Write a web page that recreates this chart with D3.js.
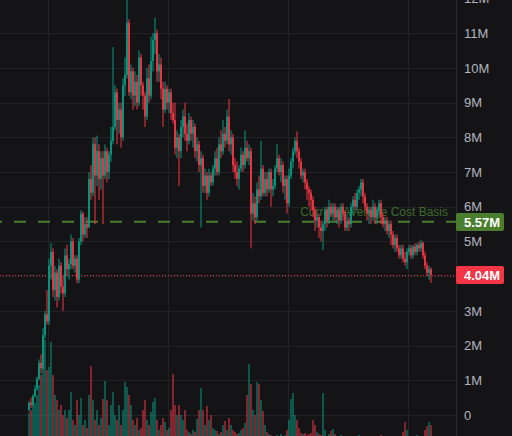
<!DOCTYPE html>
<html>
<head>
<meta charset="utf-8">
<script src="https://cdn.jsdelivr.net/npm/d3@7/dist/d3.min.js"></script>
<style>
    html, body { margin: 0; padding: 0; background: #141417; overflow: hidden; }
    svg { display: block; }
    text { font-family: "Liberation Sans", Arial, sans-serif; }
</style>
</head>
<body>
<div id="chartArea"></div>
<script>
// Candle values in millions, oldest first
let openPrice = [
    .15, .35, .3, .55, .75, 1.05, 1.5, 1.35, 2.3, 2.9,
    2.7, 4.3, 4.7, 3.6, 4.1, 3.4, 4.3, 3.7, 3.5, 4.6,
    4.2, 4.35, 5.0, 4.3, 4.5, 3.9, 5.0, 5.8, 5.2, 5.5,
    5.4, 6.8, 6.4, 7.8, 6.9, 7.6, 6.8, 7.4, 6.9, 7.6,
    7.0, 7.5, 7.9, 8.3, 9.3, 8.5, 8.8, 8.0, 9.5, 9.8,
    11.3, 9.3, 9.9, 9.2, 9.6, 9.0, 10.3, 9.5, 9.2, 8.6,
    9.7, 9.2, 10.2, 10.8, 11.0, 9.9, 10.1, 9.4, 8.8, 9.4,
    9.0, 9.3, 8.7, 8.5, 7.7, 8.0, 7.6, 8.3, 8.6, 8.1,
    7.9, 8.5, 8.1, 8.3, 7.6, 7.8, 7.2, 7.4, 6.6, 6.9,
    6.4, 6.9, 6.7, 7.1, 7.4, 7.0, 7.8, 7.6, 8.1, 7.9,
    8.6, 7.8, 8.0, 7.2, 7.0, 6.8, 7.1, 7.5, 7.2, 7.7,
    7.4, 7.6, 5.8, 6.1, 5.7, 6.5, 6.3, 7.1, 6.4, 6.8,
    6.5, 7.0, 6.5, 6.6, 7.1, 7.4, 7.0, 7.2, 6.6, 6.8,
    6.1, 6.9, 7.3, 7.6, 7.9, 7.6, 7.3, 6.9, 7.0, 6.7,
    6.5, 6.4, 6.2, 5.9, 5.6, 5.7, 5.4, 5.3, 5.5, 5.9,
    5.6, 6.0, 5.8, 6.0, 5.7, 5.9, 5.6, 6.0, 5.8, 5.4,
    5.6, 5.5, 6.0, 6.2, 6.0, 6.4, 6.5, 6.7, 6.3, 6.0,
    5.8, 5.9, 5.7, 6.0, 5.7, 5.9, 6.1, 5.7, 5.5, 5.6,
    5.3, 5.5, 5.2, 4.9, 5.1, 4.8, 4.6, 4.8, 4.5, 4.4,
    4.7, 4.8, 4.6, 4.85, 4.7, 4.9, 4.8, 4.95, 4.6, 4.3,
    4.1, 4.2
];

let closePrice = [
    .35, .3, .55, .75, 1.05, 1.5, 1.35, 2.3, 2.9, 2.7,
    4.3, 4.7, 3.6, 4.1, 3.4, 4.3, 3.7, 3.5, 4.6, 4.2,
    4.35, 5.0, 4.3, 4.5, 3.9, 5.0, 5.8, 5.2, 5.5, 5.4,
    6.8, 6.4, 7.8, 6.9, 7.6, 6.8, 7.4, 6.9, 7.6, 7.0,
    7.5, 7.9, 8.3, 9.3, 8.5, 8.8, 8.0, 9.5, 9.8, 11.3,
    9.3, 9.9, 9.2, 9.6, 9.0, 10.3, 9.5, 9.2, 8.6, 9.7,
    9.2, 10.2, 10.8, 11.0, 9.9, 10.1, 9.4, 8.8, 9.4, 9.0,
    9.3, 8.7, 8.5, 7.7, 8.0, 7.6, 8.3, 8.6, 8.1, 7.9,
    8.5, 8.1, 8.3, 7.6, 7.8, 7.2, 7.4, 6.6, 6.9, 6.4,
    6.9, 6.7, 7.1, 7.4, 7.0, 7.8, 7.6, 8.1, 7.9, 8.6,
    7.8, 8.0, 7.2, 7.0, 6.8, 7.1, 7.5, 7.2, 7.7, 7.4,
    7.6, 5.8, 6.1, 5.7, 6.5, 6.3, 7.1, 6.4, 6.8, 6.5,
    7.0, 6.5, 6.6, 7.1, 7.4, 7.0, 7.2, 6.6, 6.8, 6.1,
    6.9, 7.3, 7.6, 7.9, 7.6, 7.3, 6.9, 7.0, 6.7, 6.5,
    6.4, 6.2, 5.9, 5.6, 5.7, 5.4, 5.3, 5.5, 5.9, 5.6,
    6.0, 5.8, 6.0, 5.7, 5.9, 5.6, 6.0, 5.8, 5.4, 5.6,
    5.5, 6.0, 6.2, 6.0, 6.4, 6.5, 6.7, 6.3, 6.0, 5.8,
    5.9, 5.7, 6.0, 5.7, 5.9, 6.1, 5.7, 5.5, 5.6, 5.3,
    5.5, 5.2, 4.9, 5.1, 4.8, 4.6, 4.8, 4.5, 4.4, 4.7,
    4.8, 4.6, 4.85, 4.7, 4.9, 4.8, 4.95, 4.6, 4.3, 4.1,
    4.2, 4.04
];

let highPrice = [
    .4, .5, .6, .85, 1.1, 1.6, 1.75, 2.5, 3.0, 3.6,
    4.5, 4.95, 4.8, 4.3, 4.2, 4.5, 4.4, 4.0, 4.8, 4.9,
    4.5, 5.2, 5.1, 4.6, 4.6, 5.1, 5.9, 5.85, 5.7, 5.7,
    7.0, 7.2, 8.0, 8.0, 8.05, 7.8, 7.6, 7.6, 7.8, 7.7,
    7.6, 8.3, 10.6, 9.5, 9.4, 9.0, 9.0, 9.7, 10.3, 11.95,
    11.4, 10.1, 10.0, 9.9, 9.8, 10.5, 10.4, 9.6, 9.3, 10.0,
    10.1, 10.9, 11.0, 11.45, 11.1, 10.4, 10.3, 9.6, 9.6, 9.5,
    9.4, 9.4, 9.0, 9.0, 8.2, 8.1, 8.5, 8.8, 9.0, 8.4,
    8.7, 8.6, 8.5, 8.4, 8.0, 7.9, 7.6, 7.5, 7.1, 7.0,
    7.1, 7.0, 7.2, 7.6, 7.7, 8.0, 8.2, 8.5, 8.3, 8.8,
    9.1, 8.2, 8.1, 7.4, 7.3, 7.2, 7.7, 7.6, 8.2, 7.9,
    7.8, 7.7, 6.4, 6.3, 6.7, 6.9, 7.9, 7.2, 7.0, 7.0,
    7.1, 7.1, 6.8, 7.2, 7.8, 7.5, 7.4, 7.3, 6.9, 6.9,
    7.1, 7.4, 7.7, 8.0, 8.17, 7.7, 7.4, 7.1, 7.1, 6.8,
    6.6, 6.5, 6.3, 6.0, 5.8, 5.8, 5.6, 5.6, 6.0, 6.0,
    6.2, 6.1, 6.1, 6.1, 6.0, 6.0, 6.1, 6.1, 5.9, 5.8,
    5.7, 6.1, 6.3, 6.4, 6.5, 6.6, 6.8, 6.8, 6.4, 6.1,
    6.0, 6.0, 6.2, 6.1, 6.0, 6.2, 6.2, 5.8, 5.7, 5.7,
    5.6, 5.6, 5.3, 5.2, 5.2, 4.9, 4.9, 4.9, 4.7, 4.8,
    4.9, 4.9, 4.9, 4.95, 4.95, 5.0, 5.05, 5.0, 4.7, 4.4,
    4.3, 4.25
];

let lowPrice = [
    .1, .2, .25, .5, .7, 1.0, 1.2, 1.3, 2.2, 2.6,
    2.6, 3.9, 3.4, 3.3, 3.1, 3.3, 3.5, 3.0, 3.4, 4.0,
    3.9, 4.2, 4.2, 4.1, 3.8, 3.8, 4.9, 5.0, 5.1, 5.1,
    5.4, 6.2, 6.3, 5.5, 6.6, 6.2, 6.5, 5.5, 6.8, 6.7,
    6.8, 7.3, 7.8, 8.2, 7.8, 8.1, 7.7, 7.9, 9.2, 9.7,
    9.2, 9.1, 8.8, 8.9, 8.8, 8.9, 9.2, 8.8, 8.3, 8.5,
    9.0, 9.1, 9.9, 10.4, 9.6, 9.6, 9.1, 8.3, 8.7, 8.8,
    8.7, 8.5, 8.4, 7.5, 7.4, 6.6, 7.4, 8.0, 7.9, 7.6,
    7.8, 7.9, 7.7, 7.4, 7.3, 7.0, 5.4, 6.4, 6.4, 6.2,
    6.3, 6.6, 6.6, 6.9, 6.9, 6.9, 7.4, 7.5, 7.7, 7.8,
    7.6, 7.5, 7.0, 6.8, 6.6, 6.5, 7.0, 7.0, 7.1, 7.3,
    7.2, 4.8, 5.6, 5.5, 5.6, 6.1, 6.2, 6.3, 6.3, 6.3,
    6.4, 6.0, 6.3, 6.5, 7.0, 6.9, 6.7, 6.4, 6.2, 5.8,
    6.0, 6.8, 7.1, 7.5, 7.4, 7.1, 6.8, 6.7, 6.5, 6.2,
    6.0, 5.9, 5.7, 5.3, 5.4, 5.1, 5.0, 4.75, 5.3, 5.4,
    5.5, 5.7, 5.6, 5.6, 5.5, 5.4, 5.5, 5.6, 5.3, 5.3,
    5.3, 5.4, 5.8, 5.9, 5.9, 6.2, 6.3, 6.1, 5.9, 5.6,
    5.5, 5.5, 5.6, 5.5, 5.5, 5.8, 5.5, 5.4, 5.3, 5.2,
    5.1, 4.9, 4.8, 4.7, 4.7, 4.5, 4.5, 4.4, 4.3, 4.2,
    4.6, 4.5, 4.5, 4.6, 4.6, 4.7, 4.7, 4.5, 4.2, 4.0,
    3.9, 3.8
];

// Traded volume per candle (relative units)
let volume = [
    27, 30, 40, 37, 45, 55, 65, 80, 100, 70,
    73, 98, 65, 45, 40, 30, 35, 25, 30, 22,
    30, 48, 20, 15, 40, 25, 42, 15, 20, 12,
    45, 74, 40, 20, 30, 15, 22, 41, 59, 40,
    15, 35, 48, 25, 20, 35, 15, 30, 58, 53,
    45, 35, 20, 15, 22, 10, 12, 30, 40, 20,
    15, 28, 38, 42, 20, 10, 15, 22, 18, 10,
    12, 30, 66, 35, 25, 35, 25, 20, 30, 10,
    8, 6, 10, 8, 21, 30, 52, 30, 15, 34,
    20, 25, 12, 10, 9, 6, 8, 15, 19, 10,
    22, 15, 10, 8, 6, 7, 10, 12, 17, 45,
    76, 56, 30, 25, 58, 56, 40, 29, 15, 8,
    6, 5, 4, 3, 5, 4, 6, 3, 5, 10,
    20, 41, 47, 25, 20, 12, 7, 6, 7, 5,
    6, 7, 20, 15, 8, 6, 5, 47, 10, 4,
    6, 9, 11, 6, 4, 3, 5, 2, 4, 3,
    2, 3, 4, 2, 3, 5, 2, 3, 4, 2,
    3, 2, 4, 3, 2, 3, 5, 2, 3, 2,
    3, 4, 2, 3, 2, 3, 2, 8, 18, 10,
    3, 2, 4, 3, 5, 2, 3, 2, 10, 14,
    18, 15
];

let priceTicks = [0, 1, 2, 3, 4, 5, 6, 7, 8, 9, 10, 11, 12];
let gridCandles = [10, 70, 130, 190];
let costBasis = 5.57;
let lastPrice = 4.04;
let costBasisText = 'Current Average Cost Basis';

function drawChart() {

    let width = 512,
        height = 436,
        axisX = 456;

    let upColor = '#089981',
        downColor = '#f23645',
        basisColor = '#4b7d2e';

    let candles = openPrice.map((o, i) => ({
        i: i,
        open: o,
        close: closePrice[i],
        high: highPrice[i],
        low: lowPrice[i],
        volume: volume[i]
    }));

    let svg = d3.select('#chartArea')
        .append('svg')
            .attr('width', width)
            .attr('height', height);

    svg.append('rect')
        .attr('width', width)
        .attr('height', height)
        .attr('fill', '#141417');

    let xScale = d3.scaleBand()
        .domain(d3.range(candles.length))
        .range([28, 432]);

    let yScale = d3.scaleLinear()
        .domain([0, 12])
        .range([415, -1.5]);

    let volScale = d3.scaleLinear()
        .domain([0, 100])
        .range([440, 340]);

    // grid
    svg.append('g')
        .selectAll('line')
        .data(priceTicks)
        .enter().append('line')
            .attr('x1', 0)
            .attr('x2', axisX)
            .attr('y1', d => Math.round(yScale(d)) + 0.5)
            .attr('y2', d => Math.round(yScale(d)) + 0.5)
            .attr('stroke', '#222226');

    svg.append('g')
        .selectAll('line')
        .data(gridCandles)
        .enter().append('line')
            .attr('x1', d => xScale(d) + 0.5)
            .attr('x2', d => xScale(d) + 0.5)
            .attr('y1', 0)
            .attr('y2', height)
            .attr('stroke', '#222226');

    // axis separator
    svg.append('line')
        .attr('x1', axisX + 0.5)
        .attr('x2', axisX + 0.5)
        .attr('y1', 0)
        .attr('y2', height)
        .attr('stroke', '#2a2a2f');

    // volume bars behind the candles
    svg.append('g')
        .selectAll('rect')
        .data(candles)
        .enter().append('rect')
            .attr('x', d => xScale(d.i))
            .attr('width', 2)
            .attr('y', d => volScale(d.volume))
            .attr('height', d => volScale(0) - volScale(d.volume))
            .attr('fill', d => d.close >= d.open ? upColor : downColor)
            .attr('opacity', 0.5);

    // cost basis line and its caption
    svg.append('text')
        .attr('x', 448)
        .attr('y', Math.round(yScale(costBasis)) - 6)
        .attr('text-anchor', 'end')
        .attr('font-size', 12)
        .attr('fill', '#3e6a2a')
        .text(costBasisText);

    svg.append('line')
        .attr('x1', 0)
        .attr('x2', axisX)
        .attr('y1', yScale(costBasis))
        .attr('y2', yScale(costBasis))
        .attr('stroke', basisColor)
        .attr('stroke-width', 2)
        .attr('stroke-dasharray', '12,12')
        .attr('stroke-dashoffset', 10);

    svg.append('line')
        .attr('x1', 0)
        .attr('x2', axisX)
        .attr('y1', Math.round(yScale(lastPrice)) + 0.5)
        .attr('y2', Math.round(yScale(lastPrice)) + 0.5)
        .attr('stroke', downColor)
        .attr('stroke-dasharray', '1,2');

    // candles
    let candle = svg.append('g')
        .selectAll('g')
        .data(candles)
        .enter().append('g')
            .attr('fill', d => d.close >= d.open ? upColor : downColor)
            .attr('stroke', d => d.close >= d.open ? upColor : downColor);

    candle.append('line')
        .attr('x1', d => xScale(d.i) + 1)
        .attr('x2', d => xScale(d.i) + 1)
        .attr('y1', d => yScale(d.high))
        .attr('y2', d => yScale(d.low))
        .attr('stroke-width', 1);

    candle.append('rect')
        .attr('x', d => xScale(d.i) + 0.1)
        .attr('width', 1.8)
        .attr('y', d => yScale(Math.max(d.open, d.close)))
        .attr('height', d => Math.max(1, Math.abs(yScale(d.open) - yScale(d.close))))
        .attr('stroke', 'none');

    // price tags
    let tags = [
        { value: costBasis, color: basisColor },
        { value: lastPrice, color: downColor }
    ];

    // right price axis, labels hidden where a tag sits on top of them
    let freeTicks = priceTicks.filter(t =>
        tags.every(g => Math.abs(yScale(t) - yScale(g.value)) > 14));

    svg.append('g')
        .selectAll('text')
        .data(freeTicks)
        .enter().append('text')
            .attr('x', 464)
            .attr('y', d => yScale(d))
            .attr('dy', '0.36em')
            .attr('font-size', 13)
            .attr('fill', '#b2b5be')
            .text(d => d === 0 ? '0' : d + 'M');

    let tag = svg.append('g')
        .selectAll('g')
        .data(tags)
        .enter().append('g')
            .attr('transform', d => 'translate(' + axisX + ',' + Math.round(yScale(d.value)) + ')');

    tag.append('rect')
        .attr('x', 0)
        .attr('y', -9)
        .attr('width', 48)
        .attr('height', 18)
        .attr('rx', 2)
        .attr('fill', d => d.color);

    tag.append('text')
        .attr('x', 8)
        .attr('dy', '0.36em')
        .attr('font-size', 13)
        .attr('font-weight', 'bold')
        .attr('fill', '#ffffff')
        .text(d => d3.format('.2f')(d.value) + 'M');
}

drawChart();
</script>
</body>
</html>
